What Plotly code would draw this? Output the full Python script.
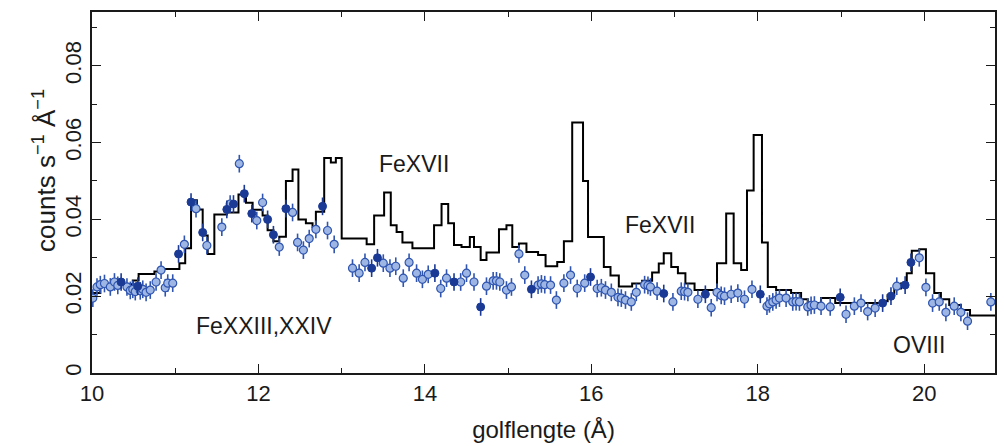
import plotly.graph_objects as go

# Model spectrum (histogram: left bin edges and heights)
model_x = [10.00, 10.10, 10.49, 10.56, 10.75, 10.83, 11.05, 11.12, 11.19, 11.26,
           11.33, 11.39, 11.47, 11.62, 11.76, 11.85, 11.93, 12.05, 12.11, 12.18,
           12.25, 12.33, 12.41, 12.48, 12.57, 12.65, 12.69, 12.79, 12.87, 12.93,
           13.00, 13.30, 13.39, 13.51, 13.59, 13.66, 13.73, 13.85, 14.11, 14.20,
           14.28, 14.35, 14.44, 14.54, 14.59, 14.67, 14.74, 14.89, 14.98, 15.05,
           15.13, 15.22, 15.36, 15.45, 15.59, 15.67, 15.77, 15.90, 15.96, 16.15,
           16.23, 16.33, 16.49, 16.61, 16.73, 16.81, 16.87, 16.96, 17.04, 17.13,
           17.24, 17.51, 17.62, 17.71, 17.80, 17.87, 17.95, 18.05, 18.12, 18.22,
           18.40, 18.52, 18.60, 18.76, 18.93, 19.48, 19.56, 19.64, 19.72, 19.79,
           19.85, 19.94, 20.02, 20.12, 20.20, 20.30, 20.44, 20.55, 20.85]
model_y = [0.0208, 0.0231, 0.0241, 0.0258, 0.0264, 0.0271, 0.0286, 0.0325, 0.0450, 0.0426,
           0.0358, 0.0310, 0.0413, 0.0418, 0.0465, 0.0443, 0.0425, 0.0410, 0.0372, 0.0343,
           0.0355, 0.0500, 0.0530, 0.0400, 0.0390, 0.0380, 0.0420, 0.0560, 0.0548, 0.0560,
           0.0350, 0.0335, 0.0410, 0.0470, 0.0385, 0.0367, 0.0340, 0.0325, 0.0385, 0.0440,
           0.0390, 0.0333, 0.0328, 0.0354, 0.0328, 0.0294, 0.0314, 0.0374, 0.0385, 0.0328,
           0.0337, 0.0315, 0.0307, 0.0278, 0.0289, 0.0343, 0.0652, 0.0500, 0.0354, 0.0276,
           0.0254, 0.0225, 0.0233, 0.0240, 0.0262, 0.0285, 0.0312, 0.0276, 0.0260, 0.0233,
           0.0216, 0.0286, 0.0415, 0.0286, 0.0268, 0.0475, 0.0620, 0.0340, 0.0224, 0.0216,
           0.0208, 0.0192, 0.0182, 0.0195, 0.0182, 0.0187, 0.0203, 0.0220, 0.0233, 0.0260,
           0.0318, 0.0322, 0.0260, 0.0208, 0.0192, 0.0177, 0.0164, 0.0150, 0.0150]

# Observed data, dark (filled) points
dark_x = [10.35, 10.55, 11.04, 11.19, 11.33, 11.62, 11.70, 11.83, 11.92, 12.11,
          12.18, 12.33, 12.77, 13.36, 13.43, 14.12, 14.35, 14.67, 15.28, 15.99,
          16.87, 17.37, 18.03, 18.99, 19.50, 19.60, 19.77, 19.84]
dark_y = [0.0237, 0.0226, 0.0310, 0.0445, 0.0366, 0.0426, 0.0440, 0.0467, 0.0415, 0.0400,
          0.0360, 0.0428, 0.0434, 0.0273, 0.0300, 0.0260, 0.0237, 0.0172, 0.0218, 0.0250,
          0.0207, 0.0205, 0.0205, 0.0197, 0.0182, 0.0200, 0.0229, 0.0288]

# Observed data, light (open) points
light_x = [10.01, 10.06, 10.10, 10.15, 10.22, 10.27, 10.31, 10.42, 10.46, 10.49,
           10.52, 10.58, 10.61, 10.65, 10.70, 10.77, 10.83, 10.88, 10.91, 10.97,
           11.11, 11.25, 11.38, 11.56, 11.66, 11.77, 11.98, 12.05, 12.25, 12.41,
           12.47, 12.54, 12.61, 12.69, 12.83, 12.91, 13.13, 13.21, 13.28, 13.50,
           13.58, 13.65, 13.74, 13.81, 13.90, 13.97, 14.04, 14.19, 14.26, 14.43,
           14.50, 14.59, 14.74, 14.82, 14.86, 14.90, 14.98, 15.04, 15.13, 15.20,
           15.36, 15.40, 15.44, 15.51, 15.58, 15.67, 15.75, 15.83, 15.92, 16.07,
           16.12, 16.17, 16.24, 16.32, 16.36, 16.41, 16.48, 16.54, 16.64, 16.68,
           16.71, 16.79, 16.98, 17.08, 17.12, 17.16, 17.28, 17.44, 17.51, 17.56,
           17.60, 17.68, 17.76, 17.84, 17.93, 18.11, 18.14, 18.18, 18.22, 18.26,
           18.34, 18.42, 18.46, 18.50, 18.60, 18.64, 18.68, 18.76, 18.87, 19.06,
           19.16, 19.24, 19.32, 19.41, 19.67, 19.94, 20.02, 20.10, 20.18, 20.26,
           20.36, 20.44, 20.52, 20.80]
light_y = [0.0195, 0.0224, 0.0230, 0.0233, 0.0224, 0.0237, 0.0228, 0.0224, 0.0215, 0.0218,
           0.0212, 0.0214, 0.0218, 0.0210, 0.0216, 0.0237, 0.0268, 0.0222, 0.0234, 0.0234,
           0.0335, 0.0428, 0.0332, 0.0380, 0.0440, 0.0545, 0.0397, 0.0444, 0.0328, 0.0418,
           0.0340, 0.0320, 0.0350, 0.0374, 0.0371, 0.0335, 0.0273, 0.0260, 0.0288, 0.0286,
           0.0273, 0.0278, 0.0247, 0.0288, 0.0260, 0.0244, 0.0257, 0.0220, 0.0247, 0.0237,
           0.0260, 0.0237, 0.0226, 0.0240, 0.0240, 0.0237, 0.0216, 0.0224, 0.0310, 0.0255,
           0.0229, 0.0232, 0.0230, 0.0229, 0.0190, 0.0234, 0.0255, 0.0220, 0.0234, 0.0220,
           0.0222, 0.0216, 0.0210, 0.0197, 0.0195, 0.0190, 0.0185, 0.0210, 0.0230, 0.0228,
           0.0224, 0.0213, 0.0185, 0.0213, 0.0212, 0.0210, 0.0192, 0.0170, 0.0210, 0.0202,
           0.0200, 0.0205, 0.0208, 0.0192, 0.0218, 0.0174, 0.0180, 0.0185, 0.0190, 0.0195,
           0.0195, 0.0185, 0.0186, 0.0185, 0.0172, 0.0176, 0.0177, 0.0174, 0.0172, 0.0153,
           0.0174, 0.0182, 0.0160, 0.0169, 0.0226, 0.0300, 0.0223, 0.0182, 0.0185, 0.0158,
           0.0174, 0.0158, 0.0135, 0.0185]

x_ticks = [10, 12, 14, 16, 18, 20]
y_ticks = [0, 0.02, 0.04, 0.06, 0.08]
y_tick_text = ["0", "0.02", "0.04", "0.06", "0.08"]

labels = ["FeXVII", "FeXVII", "FeXXIII,XXIV", "OVIII"]
label_x = [13.87, 16.83, 12.07, 19.94]
label_y = [0.0545, 0.0385, 0.0122, 0.0073]

FONT = "Liberation Sans, Arial, sans-serif"
INK = "#1a1a1a"

fig = go.Figure()

fig.add_trace(go.Scatter(
    x=model_x, y=model_y, mode="lines", line=dict(color="black", width=2, shape="hv"),
    showlegend=False, hoverinfo="skip"))

fig.add_trace(go.Scatter(
    x=light_x, y=light_y, mode="markers",
    marker=dict(size=8, color="#9db6e4", line=dict(color="#2f55b0", width=1.2)),
    error_y=dict(type="constant", value=0.0023, thickness=1.6, width=0, color="#2f55b0"),
    showlegend=False))

fig.add_trace(go.Scatter(
    x=dark_x, y=dark_y, mode="markers",
    marker=dict(size=8, color="#1a3a96", line=dict(color="#1a3a96", width=1)),
    error_y=dict(type="constant", value=0.0023, thickness=1.6, width=0, color="#1a3a96"),
    showlegend=False))

for t, xx, yy in zip(labels, label_x, label_y):
    fig.add_annotation(x=xx, y=yy, text=t, showarrow=False,
                       font=dict(family=FONT, size=23, color=INK))

fig.add_annotation(xref="paper", yref="paper", x=-0.052, y=0.56, textangle=-90,
                   xanchor="center", yanchor="middle",
                   text="counts s<sup>\u22121</sup> \u00c5<sup>\u22121</sup>", showarrow=False,
                   font=dict(family=FONT, size=26, color=INK))

fig.update_xaxes(range=[10, 20.85], tickvals=x_ticks, ticks="inside", ticklen=9, tickwidth=1.2,
                 tickcolor=INK, showline=True, linecolor=INK, linewidth=1.5, mirror="ticks",
                 showgrid=False, zeroline=False,
                 minor=dict(dtick=1, ticks="inside", ticklen=5, tickcolor=INK, showgrid=False),
                 tickfont=dict(family=FONT, size=22, color=INK),
                 title=dict(text="golflengte (\u00c5)", font=dict(family=FONT, size=24, color=INK),
                            standoff=16))
fig.update_yaxes(range=[0, 0.094], tickvals=y_ticks, ticktext=y_tick_text, tickangle=-90,
                 ticks="inside", ticklen=9, tickwidth=1.2, tickcolor=INK,
                 showline=True, linecolor=INK, linewidth=1.5, mirror="ticks",
                 showgrid=False, zeroline=False,
                 minor=dict(dtick=0.01, ticks="inside", ticklen=5, tickcolor=INK, showgrid=False),
                 tickfont=dict(family=FONT, size=22, color=INK))

fig.update_layout(width=1004, height=446, margin=dict(l=92, r=7, t=12, b=73),
                  paper_bgcolor="white", plot_bgcolor="white")

fig.write_html("out.html")
